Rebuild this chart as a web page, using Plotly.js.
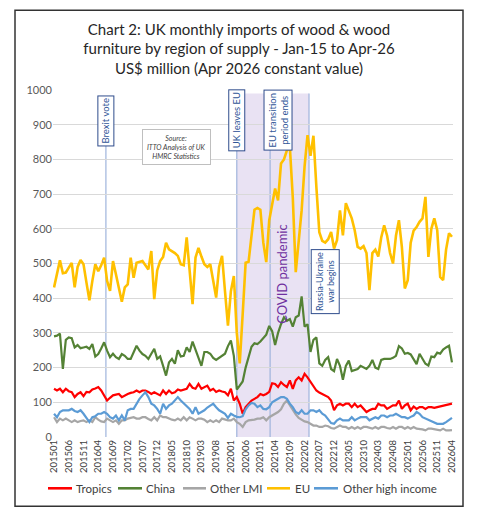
<!DOCTYPE html>
<html>
<head>
<meta charset="utf-8">
<script src="https://cdn.plot.ly/plotly-3.0.1.min.js"></script>
<style>
html,body{margin:0;padding:0;background:#fff;}
#chart{width:478px;height:518px;}
</style>
</head>
<body>
<div id="chart"></div>
<script>
// Month categories (Jan 2015 .. Apr 2026)
var months = [
"201501","201502","201503","201504","201505","201506","201507","201508","201509","201510","201511","201512",
"201601","201602","201603","201604","201605","201606","201607","201608","201609","201610","201611","201612",
"201701","201702","201703","201704","201705","201706","201707","201708","201709","201710","201711","201712",
"201801","201802","201803","201804","201805","201806","201807","201808","201809","201810","201811","201812",
"201901","201902","201903","201904","201905","201906","201907","201908","201909","201910","201911","201912",
"202001","202002","202003","202004","202005","202006","202007","202008","202009","202010","202011","202012",
"202101","202102","202103","202104","202105","202106","202107","202108","202109","202110","202111","202112",
"202201","202202","202203","202204","202205","202206","202207","202208","202209","202210","202211","202212",
"202301","202302","202303","202304","202305","202306","202307","202308","202309","202310","202311","202312",
"202401","202402","202403","202404","202405","202406","202407","202408","202409","202410","202411","202412",
"202501","202502","202503","202504","202505","202506","202507","202508","202509","202510","202511","202512",
"202601","202602","202603","202604"];

var tickLabels = ["201501","201506","201511","201604","201609","201702","201707","201712","201805","201810",
"201903","201908","202001","202006","202011","202104","202109","202202","202207","202212","202305","202310",
"202403","202408","202501","202506","202511","202604"];

var seriesNames = ["Tropics","China","Other LMI","EU","Other high income"];

var tropics = [139,134,139,129,139,132,129,115,124,129,118,130,
129,137,140,144,134,120,105,113,120,122,124,115,
120,124,127,129,134,129,134,134,130,124,129,125,
120,134,124,134,126,129,137,134,136,139,153,142,
139,153,139,144,148,134,139,130,134,131,129,120,
139,105,115,96,67,86,96,105,110,115,124,120,
124,130,155,153,144,158,150,144,163,139,163,172,
163,182,172,158,144,134,128,124,120,115,105,77,
91,96,91,96,96,86,96,86,91,81,72,77,
81,81,96,91,91,81,86,91,91,105,81,91,
96,77,88,81,86,86,81,86,86,84,86,88,
91,91,93,96];

var china = [290,292,298,196,280,287,285,258,265,256,258,260,
254,268,232,239,255,273,249,230,240,230,225,239,
234,225,225,245,263,249,239,234,225,240,254,225,
232,205,177,215,225,211,250,232,234,258,245,275,
250,225,205,245,245,240,228,222,228,232,240,262,
278,234,137,148,160,200,228,260,270,268,275,285,
295,320,305,265,300,325,345,335,340,318,345,350,
405,318,325,245,280,287,212,205,222,230,196,190,
225,205,165,205,220,190,192,196,205,201,196,205,
222,200,196,222,225,225,225,228,234,262,255,240,
242,238,225,210,240,225,211,206,232,230,243,240,
252,258,263,215];

var otherLMI = [57,43,53,48,53,48,43,48,43,46,48,43,
48,43,57,50,45,43,53,48,43,48,38,48,
48,53,55,57,53,53,57,57,52,48,57,48,
62,57,57,53,50,48,53,48,57,48,57,53,
48,53,53,50,43,48,43,48,43,53,50,48,
48,53,43,38,29,43,48,48,50,53,53,57,
48,57,62,65,72,80,96,105,91,77,65,55,
50,45,43,38,33,33,29,29,33,31,26,24,
29,33,29,29,24,29,24,29,24,29,29,26,
24,29,24,29,29,26,24,29,24,29,29,24,
29,24,29,24,24,22,19,24,24,22,19,19,
24,19,19,20];

var eu = [431,470,509,472,474,488,502,431,490,510,498,445,
394,450,498,478,495,517,450,421,507,469,430,390,
431,440,517,459,502,505,507,495,483,536,397,480,
507,519,560,541,536,530,522,498,495,575,480,383,
517,545,520,498,490,498,450,402,490,522,420,321,
420,464,300,212,354,502,505,580,655,660,655,560,
504,624,670,716,682,788,800,826,836,690,475,560,
653,780,870,810,868,720,590,565,560,570,591,543,
567,653,581,674,650,630,596,548,543,550,530,423,
530,540,520,575,610,580,530,500,580,625,548,428,
452,560,595,605,620,630,692,519,600,630,596,461,
452,540,587,577];

var otherHigh = [67,57,72,77,77,77,81,75,72,77,67,55,
43,57,60,67,67,72,67,57,53,62,48,62,
48,77,81,81,96,110,120,129,115,96,91,81,
67,96,81,91,96,105,115,105,96,90,81,67,
86,67,72,77,85,91,96,86,77,72,67,55,
67,62,58,57,60,80,91,98,96,86,91,81,
80,86,100,105,110,115,115,110,96,86,72,67,
77,67,67,77,77,72,77,67,62,50,40,38,
48,53,48,48,48,57,48,53,57,57,57,48,
53,57,53,62,62,57,62,62,67,62,57,57,
53,58,62,72,67,57,53,48,45,40,38,38,
38,43,50,55];

var colors = ["#FF0000","#548235","#A6A6A6","#FFC000","#5B9BD5"];
var widths = [2.2,2.2,2.2,2.6,2.2];
var values = [tropics, china, otherLMI, eu, otherHigh];

var traces = values.map(function(v, k){
  return {
    x: months, y: v, type: "scatter", mode: "lines", name: seriesNames[k],
    line: {color: colors[k], width: widths[k]}, hoverinfo: "x+y+name", showlegend: false
  };
});

var FONT = "Lato, 'Open Sans', sans-serif";
var boxFont = {family: FONT, size: 9.5, color: "#2F5597"};
var evLine = "#9FB4DC";

var shapes = [
  {type: "rect", xref: "paper", yref: "paper", x0: -0.095, x1: 1.025, y0: -0.1997, y1: 1.2297,
   line: {color: "#333333", width: 1.5}, fillcolor: "rgba(0,0,0,0)", layer: "below"},
  {type: "rect", xref: "x", yref: "y", x0: 62, x1: 86.5, y0: 0, y1: 990,
   fillcolor: "#E9E2F3", line: {width: 0}, layer: "below"},
  {type: "line", xref: "x", yref: "y", x0: 17.6, x1: 17.6, y0: 0, y1: 840, line: {color: evLine, width: 1.2}, layer: "below"},
  {type: "line", xref: "x", yref: "y", x0: 62, x1: 62, y0: 0, y1: 990, line: {color: evLine, width: 1.2}, layer: "below"},
  {type: "line", xref: "x", yref: "y", x0: 73.3, x1: 73.3, y0: 0, y1: 990, line: {color: evLine, width: 1.2}, layer: "below"},
  {type: "line", xref: "x", yref: "y", x0: 86.5, x1: 86.5, y0: 0, y1: 990, line: {color: evLine, width: 1.2}, layer: "below"}
];

var annotations = [
  {x: 17.6, y: 912, xref: "x", yref: "y", text: "Brexit vote", textangle: -90, showarrow: false,
   font: boxFont, bordercolor: "#2F4C8C", borderwidth: 1, borderpad: 2, bgcolor: "#FFFFFF"},
  {x: 62, y: 912, xref: "x", yref: "y", text: "UK leaves EU", textangle: -90, showarrow: false,
   font: boxFont, bordercolor: "#2F4C8C", borderwidth: 1, borderpad: 2, bgcolor: "#FFFFFF"},
  {x: 76, y: 912, xref: "x", yref: "y", text: "EU transition<br>period ends", textangle: -90, showarrow: false,
   font: boxFont, bordercolor: "#2F4C8C", borderwidth: 1, borderpad: 2, bgcolor: "#FFFFFF"},
  {x: 91.9, y: 449, xref: "x", yref: "y", text: "Russia-Ukraine<br>war begins", textangle: -90, showarrow: false,
   font: {family: FONT, size: 9, color: "#2F5597"},
   bordercolor: "#2F4C8C", borderwidth: 1, borderpad: 2, bgcolor: "#FFFFFF"},
  {x: 77.3, y: 470, xref: "x", yref: "y", text: "COVID pandemic", textangle: -90, showarrow: false,
   font: {family: FONT, size: 13, color: "#7030A0"}},
  {x: 41.4, y: 836, xref: "x", yref: "y", text: "<i>Source:<br>ITTO Analysis of UK<br>HMRC Statistics</i>", showarrow: false,
   font: {family: FONT, size: 7, color: "#404040"},
   bordercolor: "#BFBFBF", borderwidth: 1, borderpad: 4, bgcolor: "#FFFFFF"}
];

// Legend row below the axis (key line start/end and label start, in paper fractions)
var legendKeyX0 = [-0.0125, 0.1625, 0.325, 0.535, 0.6525];
var legendKeyX1 = [0.0475, 0.2225, 0.3825, 0.5925, 0.7125];
var legendTextX = [0.0525, 0.2275, 0.3875, 0.600, 0.720];
var legendY = -0.1478;
seriesNames.forEach(function(name, k){
  shapes.push({type: "line", xref: "paper", yref: "paper", x0: legendKeyX0[k], x1: legendKeyX1[k],
    y0: legendY, y1: legendY, line: {color: colors[k], width: 2.6}});
  annotations.push({xref: "paper", yref: "paper", x: legendTextX[k], y: legendY, xanchor: "left", yanchor: "middle",
    text: name, showarrow: false, font: {family: FONT, size: 11.5, color: "#404040"}});
});

var layout = {
  width: 478, height: 518,
  margin: {l: 53, r: 25, t: 90, b: 81, pad: 0},
  paper_bgcolor: "#FFFFFF", plot_bgcolor: "#FFFFFF",
  font: {family: FONT, color: "#404040"},
  title: {
    text: "Chart 2: UK monthly imports of wood &amp; wood<br>furniture by region of supply - Jan-15 to Apr-26<br>US$ million (Apr 2026 constant value)",
    font: {family: FONT, size: 15, color: "#262626"},
    x: 0.5, xref: "container", xanchor: "center",
    y: 0.933, yref: "container", yanchor: "top"
  },
  showlegend: false,
  xaxis: {
    type: "category", range: [-0.35, 135.35],
    tickmode: "array", tickvals: tickLabels, ticktext: tickLabels,
    tickangle: -90, tickfont: {size: 9.5, color: "#404040"},
    showgrid: false, zeroline: false, showline: false, ticks: "", fixedrange: true
  },
  yaxis: {
    range: [0, 1000], dtick: 100, tick0: 0,
    showgrid: true, gridcolor: "#D9D9D9", gridwidth: 1,
    zeroline: false, showline: false, ticks: "",
    tickfont: {size: 11, color: "#595959"}, fixedrange: true
  },
  shapes: shapes,
  annotations: annotations
};

Plotly.newPlot("chart", traces, layout, {displayModeBar: false, staticPlot: true});
</script>
</body>
</html>
